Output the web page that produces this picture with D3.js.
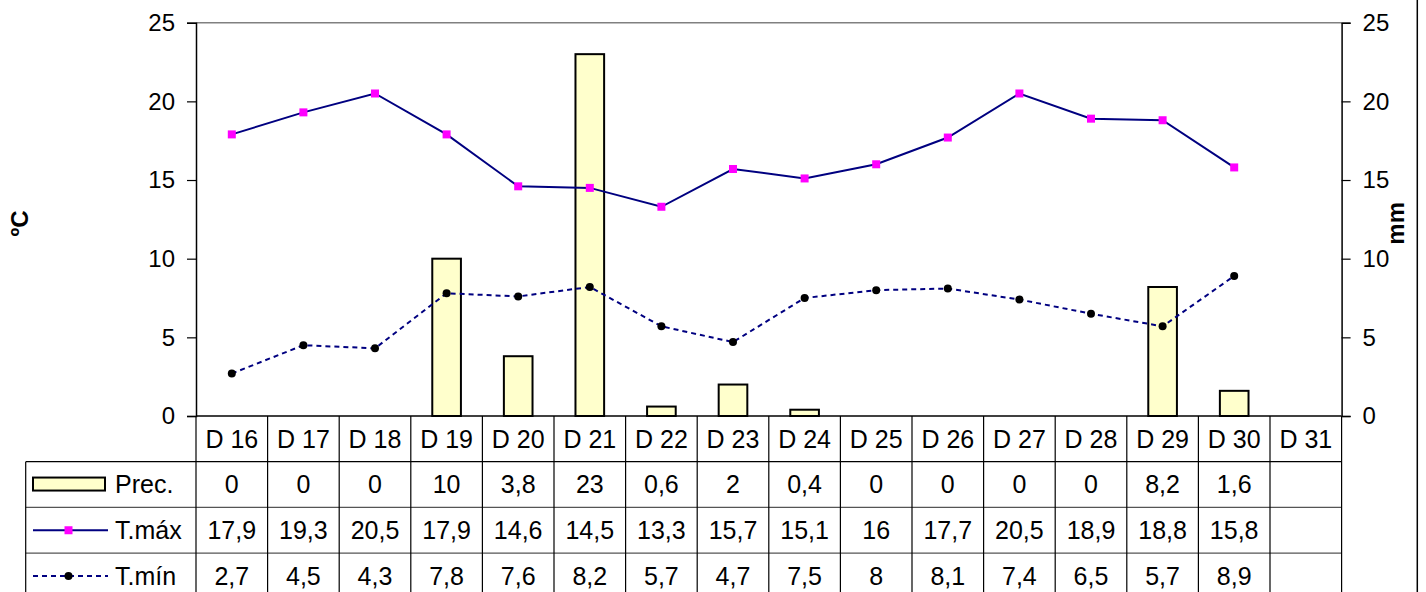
<!DOCTYPE html>
<style type="text/css">
body { margin: 0; background: #fff; }
text { font-family: "Liberation Sans", Arial, sans-serif; fill: #000; }
</style>
<svg width="1426" height="592"></svg>
<script src="https://d3js.org/d3.v7.min.js"></script>
<script>

var days = ["D 16", "D 17", "D 18", "D 19", "D 20", "D 21", "D 22", "D 23", "D 24", "D 25", "D 26", "D 27", "D 28", "D 29", "D 30", "D 31"];
var prec = [0, 0, 0, 10, 3.8, 23, 0.6, 2, 0.4, 0, 0, 0, 0, 8.2, 1.6, null];
var tMax = [17.9, 19.3, 20.5, 17.9, 14.6, 14.5, 13.3, 15.7, 15.1, 16, 17.7, 20.5, 18.9, 18.8, 15.8, null];
var tMin = [2.7, 4.5, 4.3, 7.8, 7.6, 8.2, 5.7, 4.7, 7.5, 8, 8.1, 7.4, 6.5, 5.7, 8.9, null];
var yTicks = [0, 5, 10, 15, 20, 25];
var seriesNames = ["Prec.", "T.máx", "T.mín"];

var svg = d3.select("svg");
var fs = 24, fsTable = 25;

var plotLeft = 196, plotRight = 1341.6, plotTop = 22.7, base = 416;
var rowH = 45.7, keyLeft = 25.7;

var x = d3.scaleBand().domain(days).range([plotLeft, plotRight]).padding(0);
var y = d3.scaleLinear().domain([0, 25]).range([base, plotTop]);   // ºC
var y2 = d3.scaleLinear().domain([0, 25]).range([base, plotTop]);  // mm

var fmt = d3.formatLocale({ decimal: ",", thousands: ".", grouping: [3], currency: ["", "€"] }).format("~g");

// plot frame: grey top edge
svg.append("line")
		.attr("x1", plotLeft).attr("x2", plotRight)
		.attr("y1", plotTop).attr("y2", plotTop)
		.attr("stroke", "#808080").attr("stroke-width", 1.5);

// axes
var axL = svg.append("g")
		.attr("transform", "translate(" + plotLeft + ",0)")
		.call(d3.axisLeft(y).tickValues(yTicks).tickSize(9).tickPadding(12));
var axR = svg.append("g")
		.attr("transform", "translate(" + plotRight + ",0)")
		.call(d3.axisRight(y2).tickValues(yTicks).tickSize(9).tickPadding(12));
[axL, axR].forEach(function(ax) {
	ax.select(".domain").attr("stroke", "#000").attr("stroke-width", 1.5);
	ax.selectAll(".tick line").attr("stroke", "#000").attr("stroke-width", 1.2);
	ax.selectAll(".tick text").attr("font-size", fs).attr("font-family", null).attr("fill", "#000");
});

svg.append("text")
		.attr("transform", "translate(20," + ((plotTop + base) / 2 + 4) + ") rotate(-90)")
		.attr("text-anchor", "middle").attr("dy", "0.35em")
		.attr("font-size", fs).attr("font-weight", "bold")
		.text("ºC");
svg.append("text")
		.attr("transform", "translate(1396," + ((plotTop + base) / 2 + 4) + ") rotate(-90)")
		.attr("text-anchor", "middle").attr("dy", "0.35em")
		.attr("font-size", fs).attr("font-weight", "bold")
		.text("mm");

// chart area right border
svg.append("line")
		.attr("x1", 1417.3).attr("x2", 1417.3).attr("y1", 0).attr("y2", 592)
		.attr("stroke", "#000").attr("stroke-width", 1.5);

// bars
var bw = x.bandwidth() * 0.4;
svg.append("g")
	.selectAll("rect")
	.data(days.map(function(d, i) { return { day: d, v: prec[i] }; }).filter(function(d) { return d.v; }))
	.enter().append("rect")
		.attr("x", function(d) { return x(d.day) + (x.bandwidth() - bw) / 2; })
		.attr("y", function(d) { return y2(d.v); })
		.attr("width", bw)
		.attr("height", function(d) { return base - y2(d.v); })
		.attr("fill", "#FFFFCC")
		.attr("stroke", "#000")
		.attr("stroke-width", 2);

// lines
function pts(arr) {
	return days.map(function(d, i) { return { day: d, v: arr[i] }; }).filter(function(d) { return d.v != null; });
}
var line = d3.line()
		.x(function(d) { return x(d.day) + x.bandwidth() / 2; })
		.y(function(d) { return y(d.v); });

svg.append("path")
		.datum(pts(tMax))
		.attr("d", line)
		.attr("fill", "none").attr("stroke", "#000080").attr("stroke-width", 2);
svg.append("path")
		.datum(pts(tMin))
		.attr("d", line)
		.attr("fill", "none").attr("stroke", "#000080").attr("stroke-width", 2)
		.attr("stroke-dasharray", "5,4");

svg.append("g").selectAll("rect")
	.data(pts(tMax))
	.enter().append("rect")
		.attr("x", function(d) { return x(d.day) + x.bandwidth() / 2 - 4; })
		.attr("y", function(d) { return y(d.v) - 4; })
		.attr("width", 8).attr("height", 8)
		.attr("fill", "#FF00FF");
svg.append("g").selectAll("circle")
	.data(pts(tMin))
	.enter().append("circle")
		.attr("cx", function(d) { return x(d.day) + x.bandwidth() / 2; })
		.attr("cy", function(d) { return y(d.v); })
		.attr("r", 4)
		.attr("fill", "#000");

// baseline
svg.append("line")
		.attr("x1", plotLeft).attr("x2", plotRight)
		.attr("y1", base).attr("y2", base)
		.attr("stroke", "#000").attr("stroke-width", 1.5);

// data table
var table = svg.append("g");
var rowsY = [base, base + rowH, base + 2 * rowH, base + 3 * rowH, base + 4 * rowH];

// horizontal rules
rowsY.slice(1).forEach(function(yy, i) {
	table.append("line")
			.attr("x1", keyLeft).attr("x2", plotRight)
			.attr("y1", yy).attr("y2", yy)
			.attr("stroke", i === 0 ? "#000" : "#555").attr("stroke-width", 1.2);
});
// vertical rules
days.forEach(function(d) {
	table.append("line")
			.attr("x1", x(d)).attr("x2", x(d))
			.attr("y1", base).attr("y2", 600)
			.attr("stroke", "#000").attr("stroke-width", 1.2);
});
table.append("line")
		.attr("x1", plotRight).attr("x2", plotRight).attr("y1", base).attr("y2", 600)
		.attr("stroke", "#000").attr("stroke-width", 1.2);
table.append("line")
		.attr("x1", keyLeft).attr("x2", keyLeft).attr("y1", base + rowH).attr("y2", 600)
		.attr("stroke", "#000").attr("stroke-width", 1.2);

// header
table.selectAll(".hd")
	.data(days)
	.enter().append("text")
		.attr("class", "hd")
		.attr("x", function(d) { return x(d) + x.bandwidth() / 2; })
		.attr("y", base + rowH / 2)
		.attr("dy", "0.35em")
		.attr("text-anchor", "middle")
		.attr("font-size", fsTable)
		.text(function(d) { return d; });

[prec, tMax, tMin].forEach(function(arr, r) {
	var cy = base + rowH * (r + 1) + rowH / 2;
	table.append("g").selectAll("text")
		.data(days.map(function(d, i) { return { day: d, v: arr[i] }; }).filter(function(d) { return d.v != null; }))
		.enter().append("text")
			.attr("x", function(d) { return x(d.day) + x.bandwidth() / 2; })
			.attr("y", cy)
			.attr("dy", "0.35em")
			.attr("text-anchor", "middle")
			.attr("font-size", fsTable)
			.text(function(d) { return fmt(d.v); });
	table.append("text")
			.attr("x", 115)
			.attr("y", cy)
			.attr("dy", "0.35em")
			.attr("font-size", fsTable)
			.text(seriesNames[r]);
});

// legend keys
var k1 = base + rowH * 1.5, k2 = base + rowH * 2.5, k3 = base + rowH * 3.5;
table.append("rect")
		.attr("x", 33).attr("y", k1 - 7).attr("width", 72).attr("height", 13)
		.attr("fill", "#FFFFCC").attr("stroke", "#000").attr("stroke-width", 2);
table.append("line")
		.attr("x1", 33).attr("x2", 108).attr("y1", k2).attr("y2", k2)
		.attr("stroke", "#000080").attr("stroke-width", 2);
table.append("rect")
		.attr("x", 64.5).attr("y", k2 - 4).attr("width", 8).attr("height", 8)
		.attr("fill", "#FF00FF");
table.append("line")
		.attr("x1", 33).attr("x2", 108).attr("y1", k3).attr("y2", k3)
		.attr("stroke", "#000080").attr("stroke-width", 2)
		.attr("stroke-dasharray", "5,4");
table.append("circle")
		.attr("cx", 68.5).attr("cy", k3).attr("r", 4)
		.attr("fill", "#000");

</script>
